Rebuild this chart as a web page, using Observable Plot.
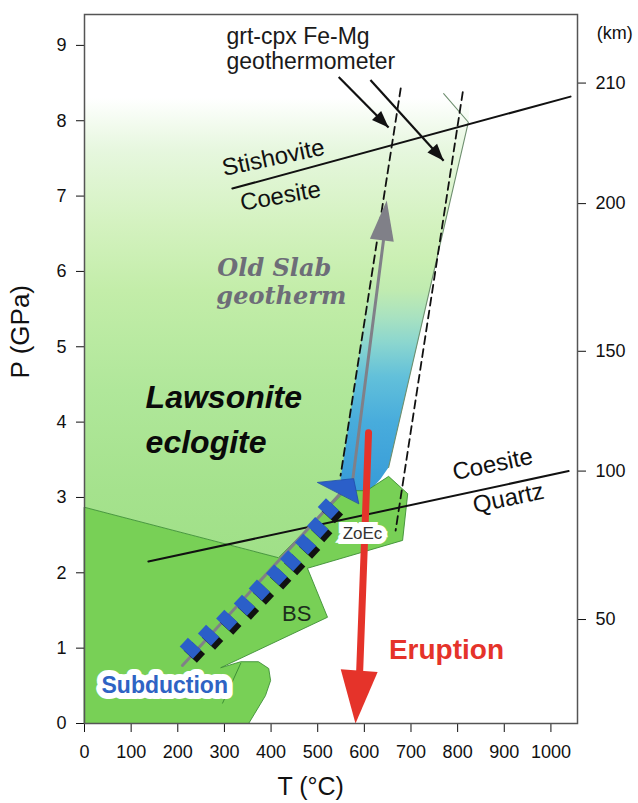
<!DOCTYPE html>
<html>
<head>
<meta charset="utf-8">
<script src="https://cdn.jsdelivr.net/npm/d3@7"></script>
<script src="https://cdn.jsdelivr.net/npm/@observablehq/plot@0.6"></script>
<style>
  body { margin: 0; background: #fff; }
</style>
</head>
<body>
<div id="chart"></div>
<script>
// ---------- data (T in °C, P in GPa) ----------
const tempTicks = [0, 100, 200, 300, 400, 500, 600, 700, 800, 900, 1000];
const pressureTicks = [0, 1, 2, 3, 4, 5, 6, 7, 8, 9];
const depthKm = [50, 100, 150, 200, 210];
const depthAtP = [1.38, 3.35, 4.94, 6.90, 8.50];

const eclogiteField = [[0, 8.40], [828, 8.40], [823, 7.98], [652, 3.40], [588, 2.92], [416, 2.20], [0, 2.87]];
const oldSlabField = [[620, 6.15], [755, 6.15], [652, 3.40], [635, 3.25], [588, 2.92], [549, 3.25]];
const blueschistField = [[0, 2.87], [416, 2.20], [560, 3.09], [605, 3.09], [652, 3.28], [693, 3.05], [682, 2.43],
  [478, 2.06], [521, 1.41], [292, 0.74], [335, 0.82], [373, 0.82], [395, 0.73], [399, 0.57], [388, 0.37], [352, 0], [0, 0]];
const bumpLine = [[335, 0.80], [296, 0.27]];
const slabEdge = [[770, 8.36], [823, 7.98], [652, 3.40]];
const grtCpxLow = [[678, 8.43], [549, 3.29]];
const grtCpxHigh = [[811, 8.38], [667, 2.56]];
const stishoviteCoesite = [[317, 7.10], [1042, 8.32]];
const coesiteQuartz = [[137, 2.15], [1038, 3.35]];
const slabGeotherm = [[210, 0.77], [575, 3.23], [641, 6.41]];
const slabTip = [[648, 6.94]];
const subT = [227, 266, 305, 343, 375, 412, 442, 474, 500, 523];
const subP = [1.00, 1.17, 1.37, 1.57, 1.77, 1.97, 2.16, 2.38, 2.60, 2.85];
const subHead = [[500, 3.20], [577, 3.25], [588, 2.92]];
const eruption = [[609, 3.86], [590, 0.70]];
const eruptionTip = [[581, 0]];
const thermoArrows = [{t1: 545, p1: 8.58, t2: 652, p2: 7.91}, {t1: 613, p1: 8.54, t2: 770, p2: 7.47}];
const thermoAngles = [135, 138];

const eclogiteStops = [[8.30, "#ffffff"], [7.95, "#f2fbee"], [7.60, "#e6f7de"], [6.64, "#d4f2c0"],
  [5.75, "#c3eda9"], [4.42, "#b0e79a"], [3.09, "#a5e28d"], [2.20, "#a0e088"]];
const oldSlabStops = [[6.15, "#caf0b3"], [5.75, "#c0ebb0"], [5.40, "#a9e2c0"], [5.05, "#8bd6cf"], [4.60, "#62c0da"],
  [4.00, "#48acdc"], [3.30, "#3b9fd9"], [2.90, "#3798d6"]];

const markers = subT.map((t, i) => ({t, p: subP[i]}));

// ---------- helpers ----------
function gradients(index, scales) {
  const y = scales.y;
  const defs = d3.create("svg:defs");
  const add = (id, stops) => {
    const y1 = y(stops[0][0]), y2 = y(stops[stops.length - 1][0]);
    const g = defs.append("linearGradient").attr("id", id).attr("gradientUnits", "userSpaceOnUse")
      .attr("x1", 0).attr("x2", 0).attr("y1", y1).attr("y2", y2);
    for (const [p, c] of stops) g.append("stop").attr("offset", (y(p) - y1) / (y2 - y1)).attr("stop-color", c);
  };
  add("eclogiteGrad", eclogiteStops);
  add("oldSlabGrad", oldSlabStops);
  return defs.node();
}
function tieSymbol(along, across, angleDeg) {
  const a = angleDeg * Math.PI / 180, c = Math.cos(a), s = Math.sin(a);
  const pts = [[-along / 2, -across / 2], [along / 2, -across / 2], [along / 2, across / 2], [-along / 2, across / 2]]
    .map(([u, v]) => [u * c - v * s, u * s + v * c]);
  return {draw(ctx) { ctx.moveTo(pts[0][0], pts[0][1]); for (let i = 1; i < 4; i++) ctx.lineTo(pts[i][0], pts[i][1]); ctx.closePath(); }};
}
function headShape(hw) {
  return {draw(ctx, l) { ctx.moveTo(0, -l); ctx.lineTo(hw, 0); ctx.lineTo(-hw, 0); ctx.closePath(); }};
}
const X = d => d[0], Y = d => d[1];
const tie = tieSymbol(12, 18, -47);
const sans = "'Liberation Sans', Arial, Helvetica, sans-serif";

const chart = Plot.plot({
  width: 638,
  height: 803,
  marginLeft: 84,
  marginRight: 61,
  marginTop: 14,
  marginBottom: 80,
  style: {fontFamily: sans, fontSize: "18px", background: "white", color: "#111"},
  x: {domain: [0, 1057]},
  y: {domain: [0, 9.41]},
  marks: [
    gradients,
    Plot.line(eclogiteField, {x: X, y: Y, curve: "linear-closed", fill: "url(#eclogiteGrad)", stroke: "none"}),
    Plot.line(oldSlabField, {x: X, y: Y, curve: "linear-closed", fill: "url(#oldSlabGrad)", stroke: "none"}),
    Plot.line(blueschistField, {x: X, y: Y, curve: "linear-closed", fill: "#78d056", stroke: "#3d8f35", strokeWidth: 0.9}),
    Plot.line(bumpLine, {x: X, y: Y, stroke: "#3d8f35", strokeWidth: 1}),
    Plot.line(slabEdge, {x: X, y: Y, stroke: "#6f8f70", strokeWidth: 1.1}),
    Plot.line(grtCpxLow, {x: X, y: Y, stroke: "#111", strokeWidth: 1.8, strokeDasharray: "8,5"}),
    Plot.line(grtCpxHigh, {x: X, y: Y, stroke: "#111", strokeWidth: 1.8, strokeDasharray: "8,5"}),
    Plot.line(stishoviteCoesite, {x: X, y: Y, stroke: "#111", strokeWidth: 2}),
    Plot.line(coesiteQuartz, {x: X, y: Y, stroke: "#111", strokeWidth: 2}),
    // old slab geotherm (gray) along subduction path
    Plot.line(slabGeotherm, {x: X, y: Y, stroke: "#808088", strokeWidth: 3}),
    Plot.vector(slabTip, {x: X, y: Y, length: 40, rotate: 7, anchor: "end", shape: headShape(12), fill: "#808088", stroke: "none"}),
    // subduction markers
    Plot.dot(markers, {x: "t", y: "p", symbol: tie, fill: "#111", stroke: "none", dx: 4, dy: 4}),
    Plot.dot(markers, {x: "t", y: "p", symbol: tie, fill: "#2b5fc9", stroke: "none"}),
    Plot.line(subHead, {x: X, y: Y, curve: "linear-closed", fill: "#2b5fc9", stroke: "#1f4aa8", strokeWidth: 0.8}),
    // eruption arrow
    Plot.line(eruption, {x: X, y: Y, stroke: "#e5332a", strokeWidth: 7}),
    Plot.vector(eruptionTip, {x: X, y: Y, length: 53, rotate: 184, anchor: "end", shape: headShape(18.5), fill: "#e5332a", stroke: "none"}),
    // geothermometer arrows
    Plot.link(thermoArrows, {x1: "t1", y1: "p1", x2: "t2", y2: "p2", stroke: "#111", strokeWidth: 2.2}),
    Plot.vector(thermoArrows, {x: "t2", y: "p2", length: 17, rotate: (d, i) => thermoAngles[i], anchor: "end", shape: headShape(6.5), fill: "#111", stroke: "none"}),
    // texts
    Plot.text(["grt-cpx Fe-Mg", "geothermometer"], {x: [304.5, 304.5], y: [9.12, 8.79], text: d => d, textAnchor: "start", fontSize: 23, fill: "#1a1a1a"}),
    Plot.text(["Stishovite"], {x: [405], y: [7.51], text: d => d, rotate: -12, fontSize: 24, fill: "#111"}),
    Plot.text(["Coesite"], {x: [420], y: [7.00], text: d => d, rotate: -10, fontSize: 24, fill: "#111"}),
    Plot.text(["Coesite", "Quartz"], {x: [875, 909], y: [3.44, 2.99], text: d => d, rotate: -12, fontSize: 24, fill: "#111"}),
    Plot.text(["Old Slab", "geotherm"], {x: [407, 422], y: [6.04, 5.67], text: d => d, fontFamily: "'DejaVu Serif', serif", fontWeight: "bold", fontStyle: "italic", fontSize: 24, fill: "#6d6d78"}),
    Plot.text(["Lawsonite", "eclogite"], {x: [131, 131], y: [4.32, 3.72], text: d => d, textAnchor: "start", fontWeight: "bold", fontStyle: "italic", fontSize: 32, fill: "#0a0a0a"}),
    Plot.text(["BS"], {x: [455], y: [1.46], text: d => d, fontSize: 22, fill: "#1c2e1c"}),
    Plot.text(["ZoEc"], {x: [596], y: [2.52], text: d => d, fontSize: 17, fill: "#333", stroke: "white", strokeWidth: 10, strokeLinejoin: "miter", paintOrder: "stroke"}),
    Plot.text(["Subduction"], {x: [172], y: [0.50], text: d => d, fontSize: 23, fontWeight: "bold", fill: "#2e63c4", stroke: "white", strokeWidth: 12, strokeLinejoin: "round", paintOrder: "stroke"}),
    Plot.text(["Eruption"], {x: [776], y: [0.98], text: d => d, fontSize: 28, fontWeight: "bold", fill: "#e5332a"}),
    // axis titles
    Plot.text(["P (GPa)"], {x: [-137], y: [5.20], text: d => d, rotate: -90, fontSize: 26, fill: "#111"}),
    Plot.text(["T (°C)"], {x: [485], y: [-0.84], text: d => d, fontSize: 25, fill: "#111"}),
    Plot.text(["(km)"], {x: [1137], y: [9.16], text: d => d, fontSize: 18, fill: "#111"}),
    // axes
    Plot.axisX(tempTicks, {tickSize: 9, tickPadding: 13, fontSize: 18, label: null, tickFormat: d => String(d)}),
    Plot.axisY(pressureTicks, {tickSize: 8, tickPadding: 10, fontSize: 18, label: null, tickFormat: d => String(d)}),
    Plot.axisY(depthAtP, {anchor: "right", tickSize: 8, tickPadding: 10, fontSize: 18, label: null,
      tickFormat: d => String(depthKm[depthAtP.indexOf(d)])}),
    Plot.frame({stroke: "#555", strokeWidth: 1.5})
  ]
});
document.getElementById("chart").appendChild(chart);
</script>
</body>
</html>
